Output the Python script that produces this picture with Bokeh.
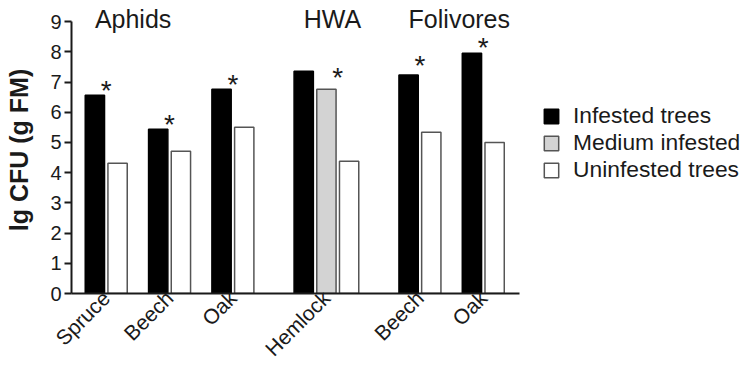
import math

from bokeh.core.properties import value
from bokeh.embed import file_html
from bokeh.models import ColumnDataSource, FixedTicker, Legend, LegendItem, Range1d
from bokeh.plotting import figure
from bokeh.resources import INLINE

# Bacterial load on leaves, lg CFU per g fresh mass
groups = ["Aphids", "HWA", "Folivores"]
tree_group = ["Aphids", "Aphids", "Aphids", "HWA", "Folivores", "Folivores"]
trees = ["Spruce", "Beech", "Oak", "Hemlock", "Beech", "Oak"]
infested = [6.56, 5.44, 6.76, 7.36, 7.23, 7.95]
medium = [None, None, None, 6.76, None, None]
uninfested = [4.31, 4.71, 5.50, 4.38, 5.34, 5.00]
# height of the significance asterisk above each tree
star_level = [6.96, 5.83, 7.16, 7.39, 7.79, 8.39]
series_names = ["Infested trees", "Medium infested", "Uninfested trees"]
y_ticks = [0, 1, 2, 3, 4, 5, 6, 7, 8, 9]

FONT = "Liberation Sans"
INK = "#1a1a1a"
EDGE = "#555555"
fills = ["#000000", "#d3d3d3", "#ffffff"]
edges = ["#000000", EDGE, EDGE]

# bar layout in slot units: one slot per bar, wider gaps between trees and groups
TREE_STEP = 1.79
GROUP_STEP = 2.62
BAR_W = 0.85
SLOT_PX = 22.7

bar_x = [[], [], []]
bar_top = [[], [], []]
tree_centers, star_x, group_first = [], [], {}
x = None
for i in range(len(trees)):
    if x is None:
        x = 0.0
    elif tree_group[i] == tree_group[i - 1]:
        x += TREE_STEP
    else:
        x += GROUP_STEP
    xs = []
    for k, v in enumerate([infested[i], medium[i], uninfested[i]]):
        if v is None:
            continue
        if xs:
            x += 1.0
        bar_x[k].append(x)
        bar_top[k].append(v)
        xs.append(x)
    tree_centers.append(sum(xs) / len(xs))
    star_x.append((xs[-2] + xs[-1]) / 2)
    group_first.setdefault(tree_group[i], xs[0])

LEFT, RIGHT = 71, 1
frame_w = 746 - LEFT - RIGHT
x_start = bar_x[0][0] - 1.03
x_end = x_start + frame_w / SLOT_PX

p = figure(
    width=746, height=373,
    x_range=Range1d(x_start, x_end),
    y_range=Range1d(0, 9.5),
    output_backend="svg", toolbar_location=None,
    min_border_left=LEFT, min_border_right=RIGHT, min_border_top=6, min_border_bottom=80,
)
p.outline_line_color = None
p.grid.visible = False
p.background_fill_color = "white"
p.border_fill_color = "white"

renderers = []
for k in range(3):
    src = ColumnDataSource(dict(x=bar_x[k], top=bar_top[k]))
    r = p.vbar(x="x", top="top", bottom=0, width=BAR_W, source=src,
               fill_color=fills[k], line_color=edges[k], line_width=1.5)
    renderers.append(r)

# asterisks marking significant differences
p.text(x=star_x, y=star_level, text=["*"] * len(star_x),
       text_font=value(FONT), text_font_size="28px", text_color=INK,
       text_align="center", text_baseline="middle", y_offset=7)

# insect group headings
p.text(x=[group_first[g] for g in groups], y=[9] * len(groups), text=groups,
       text_font=value(FONT), text_font_size="25px", text_color=INK,
       text_align="left", text_baseline="middle", x_offset=0, y_offset=-3)

# y axis
ya = p.yaxis[0]
ya.ticker = FixedTicker(ticks=y_ticks)
ya.bounds = (0, 9)
ya.axis_label = "lg CFU (g FM)"
ya.axis_label_text_font = FONT
ya.axis_label_text_font_style = "bold"
ya.axis_label_text_font_size = "25px"
ya.axis_label_text_color = INK
ya.axis_label_standoff = 14
ya.major_label_text_font = FONT
ya.major_label_text_font_size = "20px"
ya.major_label_text_color = INK
ya.major_label_standoff = 3
ya.major_tick_in = 0
ya.major_tick_out = 7
ya.minor_tick_line_color = None
ya.axis_line_width = 2
ya.axis_line_color = INK
ya.major_tick_line_width = 2
ya.major_tick_line_color = INK

# x axis with slanted tree names
xa = p.xaxis[0]
xa.bounds = (x_start, bar_x[2][-1] + 1.1)
xa.ticker = FixedTicker(ticks=tree_centers)
xa.major_label_overrides = {c: t for c, t in zip(tree_centers, trees)}
xa.major_label_orientation = math.pi / 4
xa.major_label_text_font = FONT
xa.major_label_text_font_size = "21px"
xa.major_label_text_color = INK
xa.major_label_standoff = 1
xa.major_tick_in = 0
xa.major_tick_out = 0
xa.minor_tick_line_color = None
xa.axis_line_width = 2
xa.axis_line_color = INK

legend = Legend(
    items=[LegendItem(label=n, renderers=[r]) for n, r in zip(series_names, renderers)],
    location=(471, 110),
    glyph_width=18, glyph_height=18, label_standoff=13, spacing=-2, padding=0,
    label_text_font=FONT, label_text_font_size="22.8px", label_text_color=INK,
    border_line_color=None, background_fill_alpha=0,
)
p.add_layout(legend)

open("out.html", "w").write(file_html(p, INLINE))
